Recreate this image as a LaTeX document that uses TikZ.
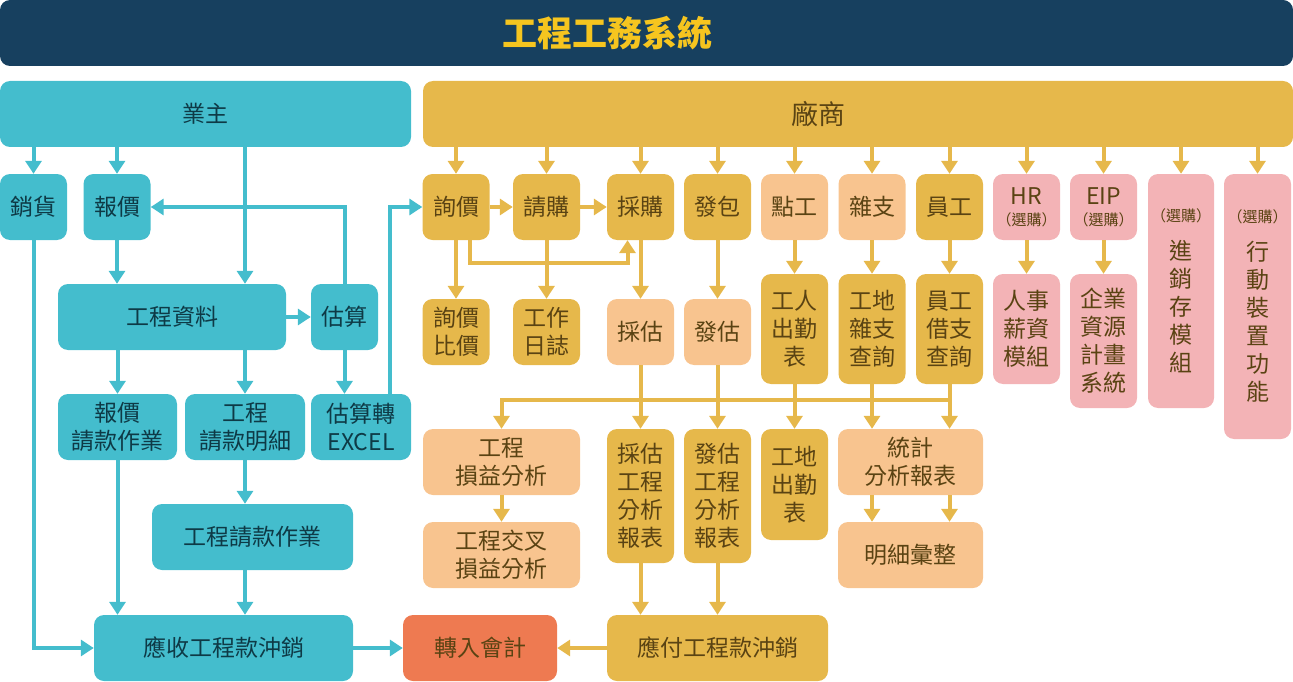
\documentclass[tikz,border=0pt]{standalone}
\usepackage{fontspec}
\setmainfont{Noto Sans CJK TC}
\usepackage{tikz}
\usetikzlibrary{arrows.meta,positioning}
\definecolor{navy}{HTML}{17405F}
\definecolor{titlegold}{HTML}{F6C51F}
\definecolor{owner}{HTML}{44BDCD}
\definecolor{ownink}{HTML}{0E3A46}
\definecolor{vendor}{HTML}{E6B84B}
\definecolor{peach}{HTML}{F8C48F}
\definecolor{rose}{HTML}{F3B3B6}
\definecolor{acct}{HTML}{EE7A51}
\definecolor{vendink}{HTML}{5A4313}
\newcommand{\nodef}{\fontsize{23}{28}\selectfont}
\newcommand{\headf}{\fontsize{27}{32}\selectfont}
\newcommand{\titlef}{\fontsize{35}{40}\selectfont\bfseries}
\newcommand{\optf}{\fontsize{15}{18}\selectfont}
\tikzset{
  box/.style={rounded corners=10pt,inner sep=0pt,align=center,font=\nodef},
  obox/.style={box,fill=owner,text=ownink},
  vbox/.style={box,fill=vendor,text=vendink},
  pbox/.style={box,fill=peach,text=vendink},
  rbox/.style={box,fill=rose,text=vendink},
  abox/.style={box,fill=acct,text=vendink},
  oarr/.style={-{Triangle[width=16pt,length=13pt]},line width=4pt,draw=owner},
  varr/.style={-{Triangle[width=16pt,length=13pt]},line width=4pt,draw=vendor},
}
\begin{document}
\begin{tikzpicture}[x=1pt,y=-1pt,
  sq/.style={minimum width=67pt,minimum height=66pt},
  hdr/.style={box,minimum height=66pt,font=\headf}]
  \useasboundingbox (0,0) rectangle (1293,682);
  \node[hdr,fill=navy,minimum width=1293pt] (ttl) at (646.5,33) {};
  \node[font=\titlef,text=titlegold,inner sep=0pt] (ttltx) at (607,33) {工程工務系統};
  \node[hdr,obox,minimum width=411pt] (own) at (205.5,114) {業主};
  \node[hdr,vbox,minimum width=870pt] (ven) at (858,114) {};
  \node[font=\headf,text=vendink,inner sep=0pt] (ventx) at (818,114) {廠商};
  \node[obox,sq] (sale) at (33.5,207) {銷貨};
  \node[obox,sq] (quote) at (117,207) {報價};
  \node[obox,minimum width=228pt,minimum height=66pt] (projdata) at (172,317) {工程資料};
  \node[obox,sq] (est) at (344.5,317) {估算};
  \node[obox,minimum width=119pt,minimum height=66pt] (qbill) at (117.5,427) {報價\\請款作業};
  \node[obox,minimum width=120pt,minimum height=66pt] (billdet) at (245,427) {工程\\請款明細};
  \node[obox,minimum width=100pt,minimum height=66pt] (estxls) at (361,427) {估算轉\\EXCEL};
  \node[obox,minimum width=201pt,minimum height=66pt] (billop) at (252.5,537) {工程請款作業};
  \node[obox,minimum width=259pt,minimum height=66pt] (recv) at (223.5,648) {應收工程款沖銷};
  \node[abox,minimum width=154pt,minimum height=66pt] (acctg) at (480,648) {轉入會計};
  \node[vbox,minimum width=221pt,minimum height=66pt] (pay) at (717.5,648) {應付工程款沖銷};
  \node[vbox,sq] (inq) at (456,207) {詢價};
  \node[vbox,sq] (req) at (546.5,207) {請購};
  \node[vbox,sq] (purch) at (640.5,207) {採購};
  \node[vbox,sq] (sub) at (717.5,207) {發包};
  \node[pbox,sq] (dayw) at (794.5,207) {點工};
  \node[pbox,sq] (misc) at (872,207) {雜支};
  \node[vbox,sq] (staff) at (949.5,207) {員工};
  \node[rbox,sq] (hr) at (1026.5,207) {HR\\[-7pt]{\optf（選購）}};
  \node[rbox,sq] (eip) at (1103.5,207) {EIP\\[-7pt]{\optf（選購）}};
  \node[rbox,minimum width=66pt,minimum height=234pt] (inv) at (1181,291) {{\optf（選購）}\\[10pt]進\\銷\\存\\模\\組};
  \node[rbox,minimum width=67pt,minimum height=265pt] (mob) at (1257.5,306.5) {{\optf（選購）}\\[10pt]行\\動\\裝\\置\\功\\能};
  \node[vbox,sq] (inqcmp) at (456,332) {詢價\\比價};
  \node[vbox,sq] (worklog) at (546.5,332) {工作\\日誌};
  \node[pbox,sq] (pest) at (640.5,332) {採估};
  \node[pbox,sq] (sest) at (717.5,332) {發估};
  \node[vbox,minimum width=67pt,minimum height=110pt] (workatt) at (794.5,329) {工人\\出勤\\表};
  \node[vbox,minimum width=67pt,minimum height=110pt] (sitemisc) at (872,329) {工地\\雜支\\查詢};
  \node[vbox,minimum width=67pt,minimum height=110pt] (staffadv) at (949.5,329) {員工\\借支\\查詢};
  \node[rbox,minimum width=67pt,minimum height=110pt] (payroll) at (1026.5,329) {人事\\薪資\\模組};
  \node[rbox,minimum width=67pt,minimum height=134pt] (erp) at (1103.5,341) {企業\\資源\\計畫\\系統};
  \node[pbox,minimum width=157pt,minimum height=66pt] (pl) at (501.5,462) {工程\\損益分析};
  \node[pbox,minimum width=157pt,minimum height=66pt] (xpl) at (501.5,555) {工程交叉\\損益分析};
  \node[vbox,minimum width=67pt,minimum height=134pt] (prep) at (640.5,496) {採估\\工程\\分析\\報表};
  \node[vbox,minimum width=67pt,minimum height=134pt] (srep) at (717.5,496) {發估\\工程\\分析\\報表};
  \node[vbox,minimum width=67pt,minimum height=111pt] (siteatt) at (794.5,484.5) {工地\\出勤\\表};
  \node[pbox,minimum width=145pt,minimum height=66pt] (stat) at (910.5,462) {統計\\分析報表};
  \node[pbox,minimum width=145pt,minimum height=66pt] (summ) at (910.5,555) {明細彙整};
  \coordinate (estup) at ([xshift=29pt]estxls.north);
  \coordinate (inqdn) at ([xshift=14pt]inq.south);
  \coordinate (purchin) at ([xshift=-13pt]purch.south);
  \draw[oarr] (sale.north |- own.south) -- (sale.north);
  \draw[oarr] (quote.north |- own.south) -- (quote.north);
  \draw[oarr] (billdet.north |- own.south) -- (billdet.north |- projdata.north);
  \draw[oarr] (quote) -- (quote.south |- projdata.north);
  \draw[oarr] (est.north) |- (quote.east);
  \draw[oarr] (projdata) -- (est);
  \draw[oarr] (qbill.north |- projdata.south) -- (qbill.north);
  \draw[oarr] (billdet.north |- projdata.south) -- (billdet.north);
  \draw[oarr] (est.south) -- (est.south |- estxls.north);
  \draw[oarr] (estup) |- (inq.west);
  \draw[oarr] (billdet.south) -- (billdet.south |- billop.north);
  \draw[oarr] (qbill.south) -- (qbill.south |- recv.north);
  \draw[oarr] (billdet.south |- billop.south) -- (billdet.south |- recv.north);
  \draw[oarr] (sale.south) |- (recv.west);
  \draw[oarr] (recv) -- (acctg);
  \foreach \n in {inq,req,purch,sub,dayw,misc,staff,hr,eip,inv,mob}
    \draw[varr] (\n.north |- ven.south) -- (\n.north);
  \draw[varr] (inq) -- (req);
  \draw[varr] (req) -- (purch);
  \draw[varr] (inqdn) -- (inqdn |- 0,263) -| (purchin);
  \draw[varr] (inq.south) -- (inqcmp.north);
  \draw[varr] (req.south) -- (worklog.north);
  \draw[varr] (purch.south) -- (pest.north);
  \draw[varr] (sub.south) -- (sest.north);
  \draw[varr] (dayw.south) -- (workatt.north);
  \draw[varr] (misc.south) -- (sitemisc.north);
  \draw[varr] (staff.south) -- (staffadv.north);
  \draw[varr] (hr.south) -- (payroll.north);
  \draw[varr] (eip.south) -- (erp.north);
  \draw[varr] (staffadv.south) |- (pl.north |- 0,400) -- (pl.north);
  \draw[varr] (pest.south) -- (prep.north);
  \draw[varr] (sest.south) -- (srep.north);
  \draw[varr] (workatt.south) -- (siteatt.north);
  \draw[varr] (sitemisc.south) -- (sitemisc.south |- stat.north);
  \draw[varr] (staffadv.south) -- (staffadv.south |- stat.north);
  \draw[varr] (pl) -- (xpl);
  \draw[varr] (sitemisc.south |- stat.south) -- (sitemisc.south |- summ.north);
  \draw[varr] (staffadv.south |- stat.south) -- (staffadv.south |- summ.north);
  \draw[varr] (prep.south) -- (prep.south |- pay.north);
  \draw[varr] (srep.south) -- (srep.south |- pay.north);
  \draw[varr] (pay) -- (acctg);
\end{tikzpicture}
\end{document}
